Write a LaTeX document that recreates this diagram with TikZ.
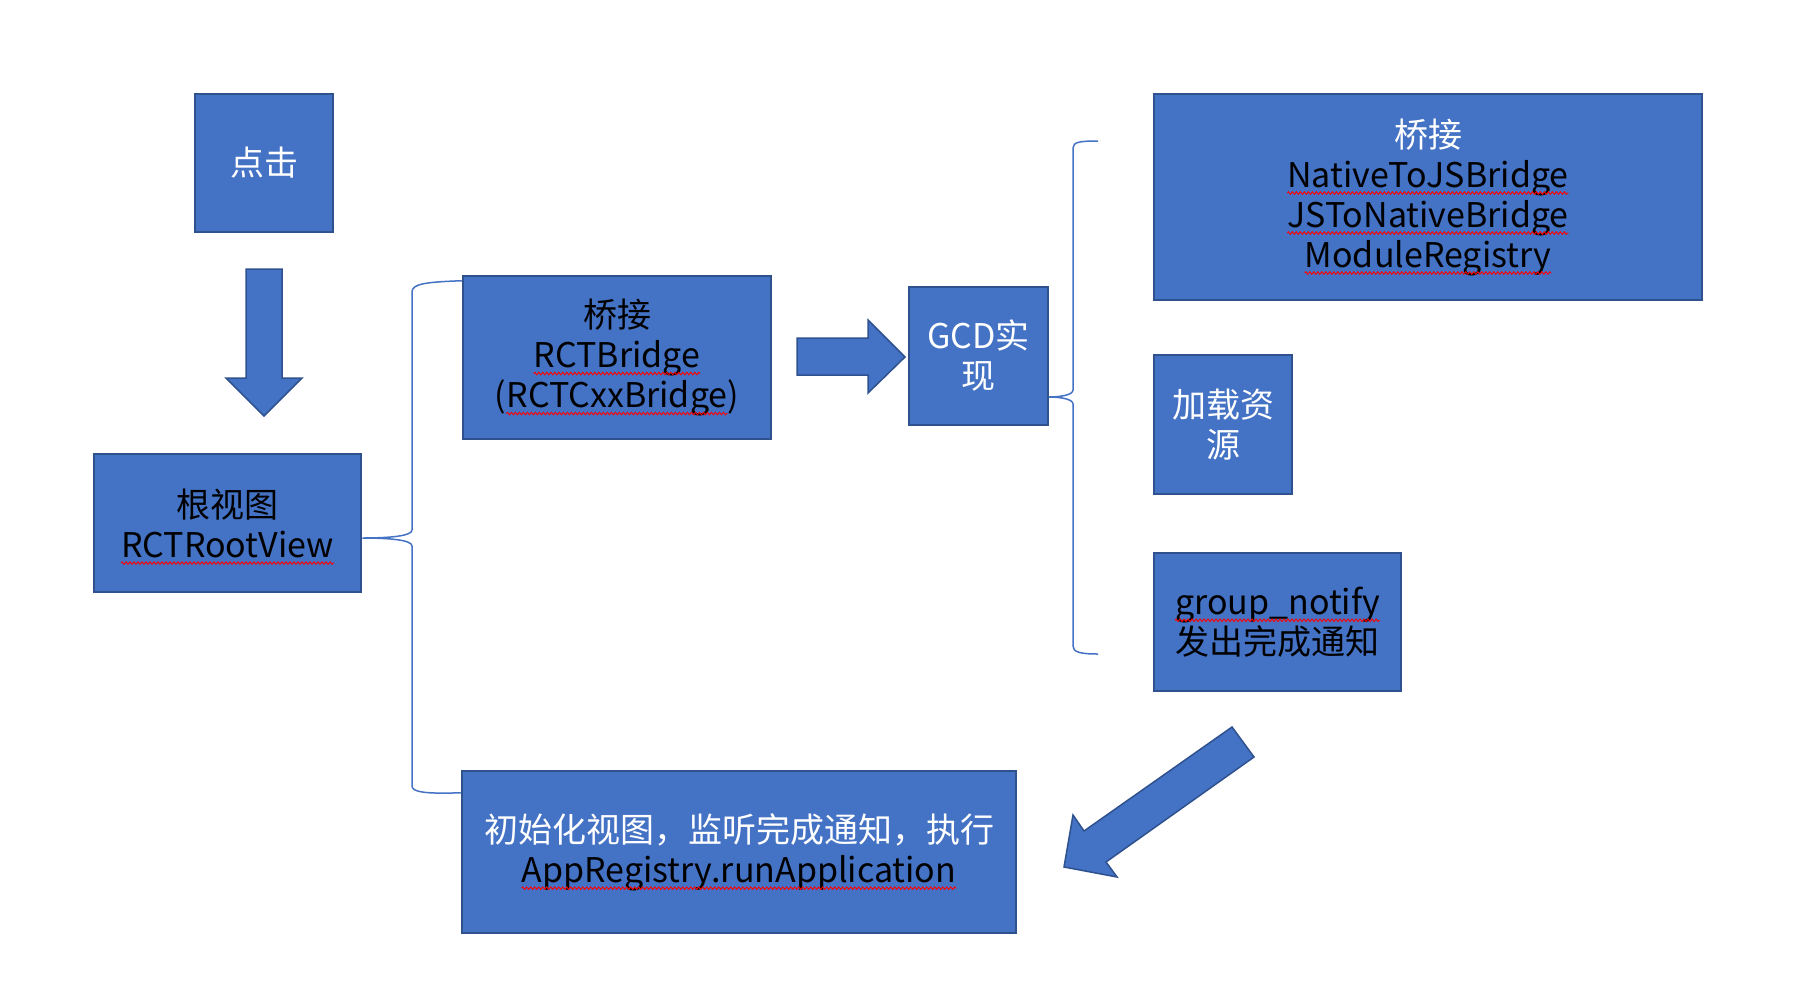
\documentclass[tikz,border=0pt]{standalone}
\usepackage{fontspec}
\setmainfont{Noto Sans CJK SC}
\usetikzlibrary{positioning,decorations.pathmorphing}
\definecolor{boxblue}{HTML}{4472C4}
\definecolor{boxline}{HTML}{2F528F}
\newcommand{\squig}[1]{\tikz[baseline=(sq.base)]{\node[inner sep=0pt,outer sep=0pt,minimum width=0pt,minimum height=0pt,draw=none,fill=none,text=black] (sq) {#1};
  \draw[overlay,red,line width=0.9pt,decorate,decoration={zigzag,amplitude=1.3pt,segment length=4pt}] ([yshift=-6pt]sq.base west) -- ([yshift=-6pt]sq.base east);}}
\newcommand{\bk}[1]{\textcolor{black}{#1}}

\begin{document}
\begin{tikzpicture}[x=1pt,y=-1pt,thick,blue box/.style={rectangle,draw=boxline,fill=boxblue,line width=2.5pt,text=white,align=center,inner sep=0pt,font=\fontsize{34}{40}\selectfont}, block arrow/.style={draw=boxline,fill=boxblue,line width=1.5pt,line join=miter}, brace line/.style={draw=boxblue,line width=1.5pt}]

  \useasboundingbox[fill=white] (0,0) rectangle (1798,1002);

  \node[blue box,minimum width=138,minimum height=138] (click) at (264,163) {点击};
  \node[blue box,minimum width=267,minimum height=138] (root) at (227.5,523) {\bk{根视图}\\\squig{RCTRootView}};
  \node[blue box,minimum width=308,minimum height=163] (bridge) at (617,357.5) {\bk{桥接}\\\squig{RCTBridge}\\\bk{(\squig{RCTCxxBridge})}};
  \node[blue box,minimum width=139,minimum height=138] (gcd) at (978.5,356) {GCD实\\现};
  \node[blue box,minimum width=548,minimum height=206] (modules) at (1428,197) {桥接\\\squig{NativeToJSBridge}\\\squig{JSToNativeBridge}\\\squig{ModuleRegistry}};
  \node[blue box,minimum width=138,minimum height=139] (load) at (1223,424.5) {加载资\\源};
  \node[blue box,minimum width=247,minimum height=138] (notify) at (1277.5,622) {\squig{group\_notify}\\\bk{发出完成通知}};
  \node[blue box,minimum width=554,minimum height=162] (runapp) at (739,852) {初始化视图，监听完成通知，执行\\\squig{AppRegistry.runApplication}};

  % block arrows
  \draw[block arrow] (246,269) -- (282,269) -- (282,378) -- (302,378) -- (264,416) -- (226,378) -- (246,378) -- cycle;
  \draw[block arrow] (797,338) -- (868,338) -- (868,320) -- (905,357) -- (868,393) -- (868,375) -- (797,375) -- cycle;
  \draw[block arrow] (1232,727) -- (1254,757) -- (1106,862) -- (1117,877) -- (1064,867) -- (1073,815) -- (1084,831) -- cycle;

  % braces
  \coordinate (root tip) at ([yshift=-15pt]root.east);
  \coordinate (gcd tip) at ([yshift=-41pt]gcd.east);
  \coordinate (top end) at (1098,141);
  \coordinate (bottom end) at (1098,654);

  \draw[brace line] ([yshift=-6pt]bridge.north west) .. controls (425,282) and (412,284) .. (412,292)
    -- (412,530) .. controls (412,536) and (390,538) .. (root tip)
    .. controls (390,538) and (412,540) .. (412,546)
    -- (412,786) .. controls (412,792) and (425,794) .. ([yshift=-23pt]runapp.north west);
  \draw[brace line] (top end) .. controls (1080,141) and (1073,142) .. (1073,148)
    -- (1073,390) .. controls (1073,395) and (1060,397) .. (gcd tip)
    .. controls (1060,397) and (1073,399) .. (1073,404)
    -- (1073,646) .. controls (1073,652) and (1080,654) .. (bottom end);
\end{tikzpicture}
\end{document}
